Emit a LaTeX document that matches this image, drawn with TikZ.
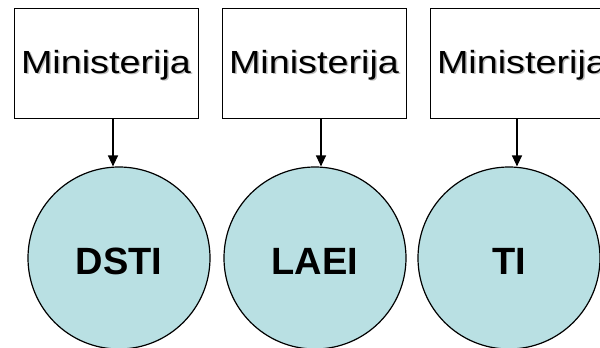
\documentclass[tikz,border=0pt]{standalone}
\usepackage{fontspec}
\setmainfont{Liberation Sans}
\usetikzlibrary{positioning}
\usetikzlibrary{arrows.meta}
\definecolor{agencyblue}{RGB}{185,224,227}
\newcommand{\shadowed}[1]{\makebox[0pt][l]{\hspace{1.5pt}\raisebox{-1.5pt}{\textcolor{black!25}{#1}}}#1}

\begin{document}
\begin{tikzpicture}[x=1pt, y=-1pt,
    ministry/.style={draw, line width=1pt, minimum width=184pt, minimum height=110pt, inner sep=0pt, text height=24pt, text depth=4pt, font=\fontsize{32}{38}\selectfont},
    agency/.style={circle, draw, fill=agencyblue, line width=1.2pt, minimum size=182pt, inner sep=0pt, text height=32pt, text depth=0pt, font=\fontsize{38}{44}\selectfont\bfseries},
    arr/.style={-{Triangle[width=10pt,length=11pt]}, line width=1.3pt}]
    \useasboundingbox (0,0) rectangle (600,348);
    \node[ministry] (m1) at (106,63) {\shadowed{\scalebox{1.18}[1]{Ministerija}}};
    \node[ministry] (m2) at (314,63) {\shadowed{\scalebox{1.18}[1]{Ministerija}}};
    \node[ministry] (m3) at (522,63) {\shadowed{\scalebox{1.18}[1]{Ministerija}}};
    \node[agency] (dsti) at (119,258) {DSTI};
    \node[agency] (laei) at (315,258) {LAEI};
    \node[agency] (ti) at (509,258) {TI};
    \foreach \m/\a/\i/\j in {m1/dsti/7/-6, m2/laei/7/6, m3/ti/-5/8}
      \draw[arr] ([xshift=\i pt]\m.south) -- ([xshift=\j pt]\a.north);
\end{tikzpicture}
\end{document}
